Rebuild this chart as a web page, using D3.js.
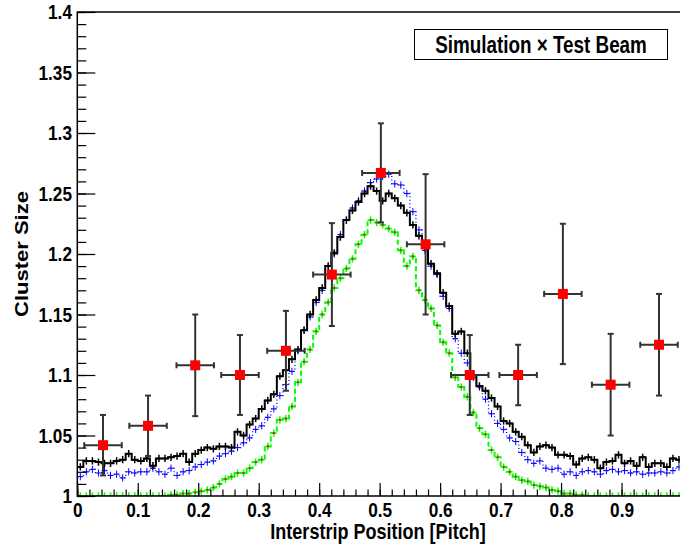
<!DOCTYPE html>
<html lang="en">
  <head>
    <meta charset="UTF-8" />
    <title>Cluster size vs interstrip position</title>
    <style>
      body { margin: 0; background: #fff; }
      text { font-family: "Liberation Sans", Arial, sans-serif; font-weight: bold; }
    </style>
  </head>
  <body>
    <svg width="680" height="546"></svg>

    <script src="https://d3js.org/d3.v7.min.js"></script>
    <script>
      // histograms, 100 bins from 0 to 1
      var blackVals = [
        1.024, 1.029, 1.029, 1.028, 1.027, 1.027, 1.029, 1.030, 1.035, 1.030,
        1.029, 1.031, 1.025, 1.031, 1.031, 1.032, 1.033, 1.035, 1.028, 1.035,
        1.038, 1.040, 1.039, 1.041, 1.041, 1.040, 1.053, 1.050, 1.059, 1.064,
        1.072, 1.079, 1.084, 1.099, 1.104, 1.113, 1.121, 1.137, 1.150, 1.162,
        1.172, 1.190, 1.201, 1.214, 1.228, 1.236, 1.243, 1.250, 1.256, 1.252,
        1.244, 1.250, 1.246, 1.240, 1.234, 1.224, 1.215, 1.205, 1.192, 1.184,
        1.168, 1.157, 1.134, 1.136, 1.118, 1.100, 1.091, 1.087, 1.081, 1.074,
        1.062, 1.060, 1.053, 1.049, 1.042, 1.036, 1.041, 1.042, 1.040, 1.034,
        1.034, 1.033, 1.026, 1.031, 1.032, 1.030, 1.023, 1.028, 1.029, 1.034,
        1.027, 1.029, 1.025, 1.032, 1.024, 1.027, 1.027, 1.024, 1.031, 1.030
      ];
      var blueVals = [
        1.016, 1.020, 1.022, 1.019, 1.021, 1.017, 1.018, 1.015, 1.020, 1.019,
        1.020, 1.020, 1.023, 1.020, 1.018, 1.023, 1.017, 1.020, 1.021, 1.024,
        1.026, 1.028, 1.029, 1.033, 1.035, 1.037, 1.040, 1.044, 1.048, 1.055,
        1.058, 1.065, 1.072, 1.083, 1.092, 1.103, 1.120, 1.137, 1.148, 1.160,
        1.170, 1.190, 1.200, 1.216, 1.228, 1.238, 1.244, 1.252, 1.259, 1.262,
        1.264, 1.266, 1.258, 1.257, 1.250, 1.235, 1.220, 1.203, 1.190, 1.183,
        1.165, 1.155, 1.130, 1.118, 1.110, 1.098, 1.090, 1.080, 1.068, 1.060,
        1.055, 1.048, 1.045, 1.036, 1.030, 1.027, 1.029, 1.023, 1.022, 1.023,
        1.018, 1.020, 1.017, 1.020, 1.021, 1.020, 1.018, 1.021, 1.022, 1.020,
        1.021, 1.019, 1.020, 1.018, 1.019, 1.019, 1.020, 1.019, 1.021, 1.024
      ];
      var greenVals = [
        1.000, 1.000, 1.000, 1.000, 1.000, 1.000, 1.000, 1.000, 1.000, 1.000,
        1.000, 1.000, 1.000, 1.000, 1.000, 1.001, 1.001, 1.002, 1.002, 1.003,
        1.004, 1.005, 1.007, 1.010, 1.014, 1.016, 1.019, 1.019, 1.023, 1.028,
        1.030, 1.041, 1.052, 1.063, 1.064, 1.074, 1.094, 1.111, 1.121, 1.136,
        1.150, 1.160, 1.172, 1.180, 1.188, 1.196, 1.208, 1.216, 1.228, 1.226,
        1.224, 1.221, 1.218, 1.203, 1.190, 1.198, 1.170, 1.162, 1.155, 1.141,
        1.127, 1.118, 1.098, 1.090, 1.082, 1.069, 1.056, 1.051, 1.038, 1.032,
        1.024, 1.020, 1.016, 1.013, 1.012, 1.009, 1.008, 1.007, 1.005, 1.004,
        1.002, 1.002, 1.001, 1.001, 1.000, 1.000, 1.000, 1.000, 1.000, 1.000,
        1.000, 1.000, 1.000, 1.000, 1.000, 1.000, 1.000, 1.000, 1.000, 1.000
      ];
      var histErr = 0.003;

      // test beam points
      var dataX = [0.0425, 0.117, 0.195, 0.269, 0.345, 0.421, 0.502, 0.576, 0.649, 0.729, 0.803, 0.882, 0.962];
      var dataY = [1.042, 1.058, 1.108, 1.100, 1.120, 1.183, 1.267, 1.208, 1.100, 1.100, 1.167, 1.092, 1.125];
      var dataEx = [0.031, 0.031, 0.031, 0.031, 0.031, 0.031, 0.031, 0.031, 0.031, 0.031, 0.031, 0.031, 0.031];
      var dataEy = [0.025, 0.025, 0.042, 0.033, 0.033, 0.0425, 0.041, 0.058, 0.033, 0.025, 0.058, 0.042, 0.042];

      var xTicks = [0, 0.1, 0.2, 0.3, 0.4, 0.5, 0.6, 0.7, 0.8, 0.9];
      var yTicks = [1, 1.05, 1.1, 1.15, 1.2, 1.25, 1.3, 1.35, 1.4];
      var legendText = "Simulation \u00d7 Test Beam";

      var SQ = 0.82; // horizontal squeeze of the text
      var svg = d3.select("svg");
      var x = d3.scaleLinear().domain([0, 1]).range([77.3, 682]);
      var y = d3.scaleLinear().domain([1, 1.4]).range([496, 12]);
      var fmt = function (d) { return String(+d.toFixed(2)); };

      svg.append("clipPath").attr("id", "frame")
        .append("rect")
        .attr("x", x(0)).attr("y", y(1.4))
        .attr("width", x(1) - x(0)).attr("height", y(1) - y(1.4));

      var plot = svg.append("g").attr("clip-path", "url(#frame)");

      function drawHist(vals, color, width, dash, cross, dot) {
        var n = vals.length;
        var pts = vals.map(function (v, i) { return [i / n, v]; });
        pts.push([1, vals[n - 1]]);
        var line = d3.line()
          .x(function (d) { return x(d[0]); })
          .y(function (d) { return y(d[1]); })
          .curve(d3.curveStepAfter);
        plot.append("path")
          .attr("d", line(pts))
          .attr("fill", "none")
          .attr("stroke", color)
          .attr("stroke-width", width)
          .attr("stroke-dasharray", dash);
        var g = plot.append("g").attr("stroke", color).attr("stroke-width", cross);
        vals.forEach(function (v, i) {
          var cx = x((i + 0.5) / n);
          g.append("line")
            .attr("x1", cx).attr("x2", cx)
            .attr("y1", y(v - histErr)).attr("y2", y(v + histErr));
          g.append("line")
            .attr("x1", cx - 3).attr("x2", cx + 3)
            .attr("y1", y(v)).attr("y2", y(v));
          if (dot) {
            plot.append("rect")
              .attr("x", cx - 1).attr("y", y(v) - 1)
              .attr("width", 2).attr("height", 2)
              .attr("fill", dot);
          }
        });
      }

      drawHist(greenVals, "#00ff00", 2, "5,3", 1.5, "#d02020");
      drawHist(blueVals, "#0000ff", 1.3, "1,2.5", 1, null);
      drawHist(blackVals, "#000", 2, null, 1.5, null);

      // data points with error bars
      var pg = svg.append("g").attr("stroke", "#333").attr("stroke-width", 2);
      dataX.forEach(function (dx, i) {
        var cx = x(dx), cy = y(dataY[i]);
        var x0 = x(dx - dataEx[i]), x1 = x(dx + dataEx[i]);
        var y0 = y(dataY[i] - dataEy[i]), y1 = y(dataY[i] + dataEy[i]);
        pg.append("line").attr("x1", x0).attr("x2", x1).attr("y1", cy).attr("y2", cy);
        pg.append("line").attr("x1", cx).attr("x2", cx).attr("y1", y0).attr("y2", y1);
        pg.append("line").attr("x1", x0).attr("x2", x0).attr("y1", cy - 3).attr("y2", cy + 3);
        pg.append("line").attr("x1", x1).attr("x2", x1).attr("y1", cy - 3).attr("y2", cy + 3);
        pg.append("line").attr("x1", cx - 3).attr("x2", cx + 3).attr("y1", y0).attr("y2", y0);
        pg.append("line").attr("x1", cx - 3).attr("x2", cx + 3).attr("y1", y1).attr("y2", y1);
        pg.append("rect")
          .attr("x", cx - 5).attr("y", cy - 5)
          .attr("width", 10).attr("height", 10)
          .attr("fill", "#ff0000").attr("stroke", "none");
      });

      // axes
      var xMajor = d3.axisBottom(x).tickValues(xTicks.concat([1])).tickFormat(function (d) {
          return xTicks.indexOf(d) >= 0 ? fmt(d) : "";
        })
        .tickSizeInner(-13).tickSizeOuter(0).tickPadding(6);
      var xMinor = d3.axisBottom(x).tickValues(d3.range(0, 50).map(function (i) { return i * 0.02; }))
        .tickFormat("").tickSizeInner(-6.5).tickSizeOuter(0);
      var yMajor = d3.axisLeft(y).tickValues(yTicks).tickFormat(fmt)
        .tickSizeInner(-18).tickSizeOuter(0).tickPadding(6.5);
      var yMinor = d3.axisLeft(y).tickValues(d3.range(0, 41).map(function (i) { return 1 + i * 0.01; }))
        .tickFormat("").tickSizeInner(-9).tickSizeOuter(0);

      [xMinor, xMajor].forEach(function (ax) {
        svg.append("g").attr("class", "xax").attr("transform", "translate(0,496)").call(ax);
      });
      [yMinor, yMajor].forEach(function (ax) {
        svg.append("g").attr("class", "yax").attr("transform", "translate(77.3,0)").call(ax);
      });
      svg.selectAll(".xax .domain, .yax .domain").remove();
      svg.selectAll(".xax line, .yax line").attr("stroke", "#000").attr("stroke-width", 1.2);
      svg.selectAll(".xax text, .yax text")
        .attr("font-size", 21).attr("font-family", null).attr("fill", "#000")
        .attr("transform", "scale(" + SQ + ",1)");

      // frame
      svg.append("rect")
        .attr("x", x(0)).attr("y", y(1.4))
        .attr("width", x(1) - x(0)).attr("height", y(1) - y(1.4))
        .attr("fill", "none").attr("stroke", "#000").attr("stroke-width", 1.5);

      // titles
      svg.append("text")
        .attr("transform", "translate(378,539) scale(" + SQ + ",1)")
        .attr("text-anchor", "middle").attr("font-size", 22)
        .text("Interstrip Position [Pitch]");
      svg.append("text")
        .attr("transform", "translate(28,254) scale(" + SQ + ",1) rotate(-90)")
        .attr("text-anchor", "middle").attr("font-size", 22)
        .text("Cluster Size");

      // legend
      svg.append("rect")
        .attr("x", 414.5).attr("y", 29.5).attr("width", 253).attr("height", 30)
        .attr("fill", "#fff").attr("stroke", "#000").attr("stroke-width", 1);
      svg.append("text")
        .attr("transform", "translate(541,53) scale(" + SQ + ",1)")
        .attr("text-anchor", "middle").attr("font-size", 23)
        .text(legendText);
    </script>
  </body>
</html>
